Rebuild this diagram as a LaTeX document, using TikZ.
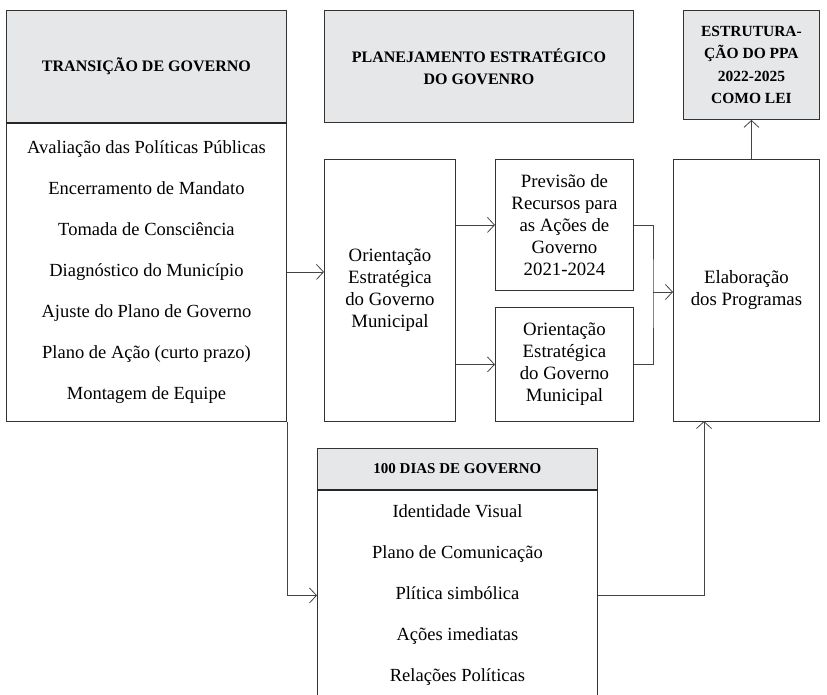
\documentclass[tikz,border=0pt]{standalone}
\usepackage{fontspec}
\setmainfont{Liberation Serif}
\usetikzlibrary{arrows.meta}
\definecolor{hdr}{HTML}{E6E7E8}
\definecolor{edge}{HTML}{333333}
\definecolor{conn}{HTML}{444444}
\tikzset{
  box/.style={draw=edge, line width=0.9pt, anchor=north west, inner sep=0pt, align=center,
    font=\fontsize{18.8}{22}\selectfont},
  hbox/.style={box, fill=hdr, font=\fontsize{16}{22}\selectfont\bfseries},
  listbox/.style={box, font=\fontsize{18.5}{41}\selectfont},
  sep/.style={draw=black!85, line width=1.5pt},
  conline/.style={draw=conn, line width=0.8pt},
  arr/.style={conline, -{Straight Barb[length=7pt,width=15pt,line width=0.8pt]}},
}
\begin{document}
\begin{tikzpicture}[x=1pt,y=-1pt]
\useasboundingbox (0,0) rectangle (827,694);
\begin{scope}
\clip (0,0) rectangle (827,694);
% Transicao
\node[hbox, minimum width=280pt, minimum height=112pt] (trh) at (6,10) {TRANSIÇÃO DE GOVERNO};
\node[listbox, minimum width=280pt, minimum height=299pt] (trb) at (6,122)
  {Avaliação das Políticas Públicas\\Encerramento de Mandato\\Tomada de Consciência\\Diagnóstico do Município\\Ajuste do Plano de Governo\\Plano de Ação (curto prazo)\\Montagem de Equipe};
\draw[sep] (trh.south west) -- (trh.south east);
% Planejamento
\node[hbox, minimum width=309pt, minimum height=112pt] (plan) at (324,10) {PLANEJAMENTO ESTRATÉGICO\\DO GOVENRO};
% Estruturacao
\node[hbox, font=\fontsize{15.5}{22.3}\selectfont\bfseries, minimum width=136pt, minimum height=109pt] (estr) at (683,10) {ESTRUTURA-\\ÇÃO DO PPA\\2022-2025\\COMO LEI};
% Orientacao grande
\node[box, minimum width=131pt, minimum height=262pt] (ori) at (324,159) {Orientação\\Estratégica\\do Governo\\Municipal};
% Previsao
\node[box, minimum width=138pt, minimum height=131pt] (prev) at (495,159) {Previsão de\\Recursos para\\as Ações de\\Governo\\2021-2024};
% Orientacao pequena
\node[box, minimum width=138pt, minimum height=114pt] (ori2) at (495,307) {Orientação\\Estratégica\\do Governo\\Municipal};
% Elaboracao
\node[box, minimum width=146pt, minimum height=262pt] (elab) at (673,159) {Elaboração\\dos Programas};
% 100 dias
\node[hbox, font=\fontsize{15}{22}\selectfont\bfseries, minimum width=280pt, minimum height=41pt] (dh) at (317,448) {100 DIAS DE GOVERNO};
\node[listbox, minimum width=280pt, minimum height=212pt] (db) at (317,489)
  {Identidade Visual\\Plano de Comunicação\\Plítica simbólica\\Ações imediatas\\Relações Políticas};
\draw[sep] (dh.south west) -- (dh.south east);
% connectors
\draw[arr] (trb.east) -- (trb.east -| ori.west);
\draw[arr] (prev.west -| ori.east) -- (prev.west);
\draw[arr] (ori2.west -| ori.east) -- (ori2.west);
\coordinate (jn) at (653,292);
\draw[conline] (prev.east) -| (jn) |- (ori2.east);
\draw[arr] (jn) -- (jn -| elab.west);
\draw[arr] (estr.south |- elab.north) -- (estr.south);
\draw[arr] (trb.south east) |- (db.west);
\coordinate (je) at (704,421);
\draw[arr] (db.east) -| (je);
\end{scope}
\end{tikzpicture}
\end{document}
